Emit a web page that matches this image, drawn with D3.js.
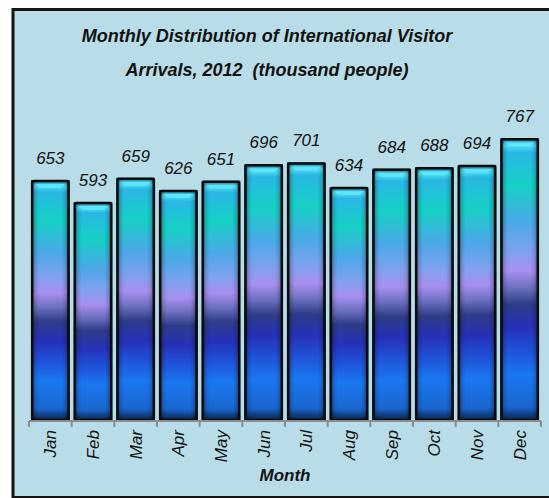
<!DOCTYPE html>
<html>
<head>
<meta charset="utf-8">
<script src="https://cdn.jsdelivr.net/npm/d3@7"></script>
<style>
  html, body { margin: 0; padding: 0; background: #ffffff; }
  svg { display: block; font-family: "Liberation Sans", Arial, sans-serif; }
</style>
</head>
<body>
<svg id="chart" width="549" height="498"></svg>
<script>
// ---- data ----
const months = ["Jan","Feb","Mar","Apr","May","Jun","Jul","Aug","Sep","Oct","Nov","Dec"];
const arrivals = [653, 593, 659, 626, 651, 696, 701, 634, 684, 688, 694, 767];
const titleLines = ["Monthly Distribution of International Visitor", "Arrivals, 2012  (thousand people)"];
const xAxisTitle = "Month";

const svg = d3.select("#chart");
const W = 549, H = 498;

// frame / background
svg.append("rect")
  .attr("x", 13).attr("y", 9.5)
  .attr("width", W).attr("height", H - 10)
  .attr("fill", "#b9dde8")
  .attr("stroke", "#141414").attr("stroke-width", 3);

// gradients
const defs = svg.append("defs");
const vg = defs.append("linearGradient").attr("id", "barV")
  .attr("x1", 0).attr("y1", 0).attr("x2", 0).attr("y2", 1);
[
  [0.00, "#1a6d9a"],
  [0.025, "#4fe3f7"],
  [0.05, "#2ab6e4"],
  [0.10, "#20c2d8"],
  [0.17, "#16d0c4"],
  [0.30, "#4aa8e8"],
  [0.40, "#7ea2ee"],
  [0.47, "#a88ff0"],
  [0.53, "#6c70c0"],
  [0.59, "#2e3c88"],
  [0.67, "#2630b8"],
  [0.75, "#2050d8"],
  [0.84, "#1a78f2"],
  [0.95, "#1a66d0"],
  [1.00, "#123f86"]
].forEach(([o, c]) => vg.append("stop").attr("offset", o).attr("stop-color", c));

const hg = defs.append("linearGradient").attr("id", "barH")
  .attr("x1", 0).attr("y1", 0).attr("x2", 1).attr("y2", 0);
[
  [0.00, "#000814", 0.65],
  [0.10, "#000814", 0.15],
  [0.20, "#000814", 0.0],
  [0.80, "#000814", 0.0],
  [0.90, "#000814", 0.15],
  [1.00, "#000814", 0.65]
].forEach(([o, c, a]) => hg.append("stop").attr("offset", o).attr("stop-color", c).attr("stop-opacity", a));

const bg = defs.append("linearGradient").attr("id", "barB")
  .attr("x1", 0).attr("y1", 0).attr("x2", 0).attr("y2", 1);
[
  [0.00, "#000814", 0.0],
  [0.96, "#000814", 0.0],
  [1.00, "#000814", 0.45]
].forEach(([o, c, a]) => bg.append("stop").attr("offset", o).attr("stop-color", c).attr("stop-opacity", a));

// scales
const x = d3.scaleBand().domain(months).range([29, 541]).paddingInner(0.1).paddingOuter(0.05);
const y = d3.scaleLinear().domain([0, 800]).range([420, 126]);

// bars
const g = svg.append("g");
const bars = g.selectAll("g.bar").data(months.map((m, i) => ({ m, v: arrivals[i] }))).join("g").attr("class", "bar");
bars.append("rect")
  .attr("x", d => x(d.m)).attr("y", d => y(d.v))
  .attr("width", x.bandwidth()).attr("height", d => y(0) - y(d.v))
  .attr("fill", "url(#barV)");
bars.append("rect")
  .attr("x", d => x(d.m)).attr("y", d => y(d.v))
  .attr("width", x.bandwidth()).attr("height", d => y(0) - y(d.v))
  .attr("fill", "url(#barH)");
bars.append("rect")
  .attr("x", d => x(d.m)).attr("y", d => y(d.v))
  .attr("width", x.bandwidth()).attr("height", d => y(0) - y(d.v))
  .attr("fill", "url(#barB)");
// top bevel highlight
bars.append("path")
  .attr("d", d => {
    const x0 = x(d.m), w = x.bandwidth(), t = y(d.v);
    return `M${x0 + 4},${t + 4} L${x0 + w - 4},${t + 4} L${x0 + w - 9},${t + 8} L${x0 + 9},${t + 8} Z`;
  })
  .attr("fill", "#63e6fa").attr("opacity", 0.85);
// border
bars.append("rect")
  .attr("x", d => x(d.m) + 1).attr("y", d => y(d.v) + 1)
  .attr("width", x.bandwidth() - 2).attr("height", d => y(0) - y(d.v) - 1)
  .attr("rx", 1.5)
  .attr("fill", "none").attr("stroke", "#0b0b0b").attr("stroke-width", 2.5);

// value labels
g.selectAll("text.val").data(months.map((m, i) => ({ m, v: arrivals[i] }))).join("text")
  .attr("class", "val")
  .attr("x", d => x(d.m) + x.bandwidth() / 2)
  .attr("y", d => y(d.v) - 16)
  .attr("text-anchor", "middle")
  .attr("font-size", 17).attr("font-style", "italic")
  .attr("fill", "#111")
  .text(d => d.v);

// x axis
const axisY = 421;
const xAxis = svg.append("g").attr("transform", `translate(0,${axisY})`)
  .call(d3.axisBottom(x).tickSize(0).tickFormat(d => d));
xAxis.select(".domain").remove();
xAxis.append("line")
  .attr("x1", x.range()[0]).attr("x2", x.range()[1])
  .attr("y1", 0).attr("y2", 0)
  .attr("stroke", "#8c8c8c").attr("stroke-width", 2);
const bounds = months.map(m => x(m) - x.step() * x.paddingInner() / 2);
bounds[0] = x.range()[0];
bounds.push(x.range()[1]);
xAxis.selectAll("line.tk").data(bounds).join("line").attr("class", "tk")
  .attr("x1", d => d).attr("x2", d => d)
  .attr("y1", 0).attr("y2", 6)
  .attr("stroke", "#8c8c8c").attr("stroke-width", 2);
xAxis.selectAll(".tick text")
  .attr("transform", "rotate(-90)")
  .attr("x", -9).attr("y", 0).attr("dy", "0.35em")
  .attr("text-anchor", "end")
  .attr("font-size", 17).attr("font-style", "italic")
  .attr("font-family", "'Liberation Sans', Arial, sans-serif")
  .attr("fill", "#111");

// axis title
svg.append("text")
  .attr("x", 285).attr("y", 481)
  .attr("text-anchor", "middle")
  .attr("font-size", 17).attr("font-weight", "bold").attr("font-style", "italic")
  .attr("fill", "#111")
  .text(xAxisTitle);

// chart title
svg.append("g").selectAll("text").data(titleLines).join("text")
  .attr("x", 267).attr("y", (d, i) => 42 + i * 34)
  .attr("text-anchor", "middle")
  .style("white-space", "pre")
  .attr("font-size", 18).attr("font-weight", "bold").attr("font-style", "italic")
  .attr("fill", "#111")
  .text(d => d);
</script>
</body>
</html>
